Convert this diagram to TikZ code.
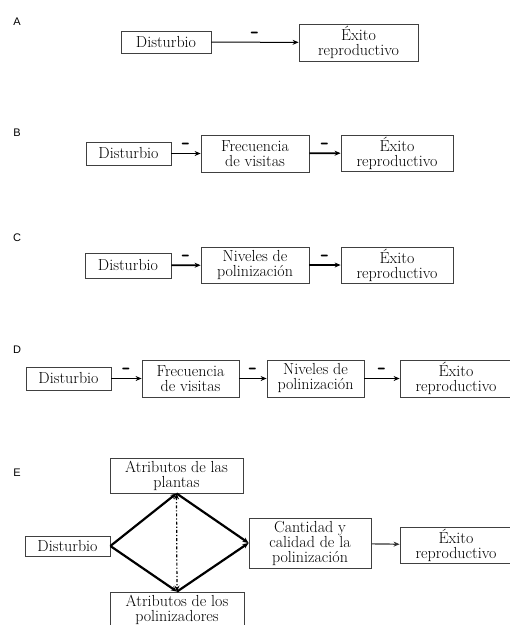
\documentclass[tikz,border=0pt]{standalone}
\usepackage{fontspec}
\newfontfamily\panelfont{Liberation Sans}
\usetikzlibrary{arrows.meta}

\begin{document}
\begin{tikzpicture}[x=1pt,y=-1pt,
  font=\fontsize{16}{15}\selectfont,
  box/.style 2 args={draw=black!75,line width=0.8pt,align=center,inner sep=0pt,
              minimum width=#1,minimum height=#2},
  panel/.style={font=\panelfont\fontsize{11}{11}\selectfont},
  minus/.style={font=\sffamily\bfseries\fontsize{24}{24}\selectfont,inner sep=0pt},
  link/.style={->,line width=1.8pt},
  diam/.style={->,line width=2.2pt},
  >={Stealth[length=6pt,width=5pt]}
]
\useasboundingbox (0,0) rectangle (510,625);

% A
\node[panel] (labA) at (17,22) {A};
\node[box={90}{22}] (distA) at (166,42) {Disturbio};
\node[box={119}{37}] (exitoA) at (358.5,42.5) {Éxito\\reproductivo};
\draw[->,line width=1pt] (distA) -- node[above=3pt,minus]{-} (exitoA);

% B
\node[panel] (labB) at (17,133) {B};
\node[box={85}{23}] (distB) at (128.5,153.5) {Disturbio};
\node[box={108}{37}] (frecB) at (255,153.5) {Frecuencia\\de visitas};
\node[box={112}{36}] (exitoB) at (397,153) {Éxito\\reproductivo};
\draw[link] (distB) -- node[above=3pt,minus]{-} (frecB);
\draw[link] (frecB) -- node[above=3pt,minus]{-} (exitoB);

% C
\node[panel] (labC) at (17,238) {C};
\node[box={86}{25}] (distC) at (128,265.5) {Disturbio};
\node[box={108}{36}] (nivC) at (255,265) {Niveles de\\polinización};
\node[box={112}{36}] (exitoC) at (397,265) {Éxito\\reproductivo};
\draw[link] (distC) -- node[above=3pt,minus]{-} (nivC);
\draw[link] (nivC) -- node[above=3pt,minus]{-} (exitoC);

% D
\node[panel] (labD) at (17,350) {D};
\node[box={85}{23}] (distD) at (68.5,378.5) {Disturbio};
\node[box={97}{37}] (frecD) at (190.5,378.5) {Frecuencia\\de visitas};
\node[box={97}{37}] (nivD) at (315.5,378.5) {Niveles de\\polinización};
\node[box={112}{37}] (exitoD) at (456,378.5) {Éxito\\reproductivo};
\draw[link] (distD) -- node[above=3pt,minus]{-} (frecD);
\draw[link] (frecD) -- node[above=3pt,minus]{-} (nivD);
\draw[link] (nivD) -- node[above=3pt,minus]{-} (exitoD);

% E
\node[panel] (labE) at (17,473) {E};
\node[box={133}{35}] (plantas) at (176.5,475.5) {Atributos de las\\plantas};
\node[box={85}{20}] (distE) at (67.5,546) {Disturbio};
\node[box={122}{50}] (cantidad) at (310,543) {Cantidad y\\calidad de la\\polinización};
\node[box={112}{36}] (exitoE) at (456,545) {Éxito\\reproductivo};
\node[box={134}{36}] (poliniz) at (177,610) {Atributos de los\\polinizadores};
\draw[diam] (distE.east) -- (plantas.south);
\draw[diam] (distE.east) -- (poliniz.north);
\draw[diam] (plantas.south) -- (cantidad.west);
\draw[diam] (poliniz.north) -- (cantidad.west);
\draw[<->,line width=1.2pt,dash dot] (plantas.south) -- (poliniz.north);
\draw[->,line width=1.2pt,black!80] (cantidad) -- (exitoE);
\end{tikzpicture}
\end{document}
